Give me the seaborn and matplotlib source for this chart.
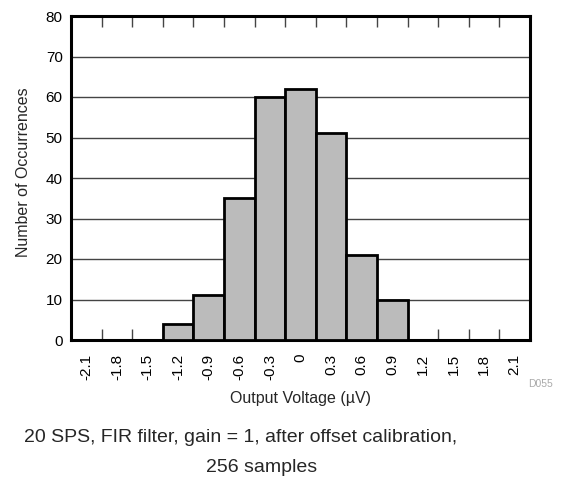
import pandas as pd
import seaborn as sns
import matplotlib.pyplot as plt
from matplotlib.ticker import FixedLocator

# bin centres (uV) and counts
bin_labels = ["-2.1", "-1.8", "-1.5", "-1.2", "-0.9", "-0.6", "-0.3", "0",
              "0.3", "0.6", "0.9", "1.2", "1.5", "1.8", "2.1"]
counts = [0, 0, 0, 4, 11, 35, 60, 62, 51, 21, 10, 0, 0, 0, 0]
y_ticks = [0, 10, 20, 30, 40, 50, 60, 70, 80]

sns.set_theme(style="white")
plt.rcParams["font.family"] = ["Liberation Sans", "DejaVu Sans"]

df = pd.DataFrame({"bin": bin_labels, "count": counts})

W, H = 565, 478
fig = plt.figure(figsize=(W / 100, H / 100), dpi=100)
ax = fig.add_axes([71 / W, 1 - 340 / H, 459 / W, 324 / H])

sns.barplot(data=df, x="bin", y="count", order=bin_labels, width=1.0,
            color="#bbbbbb", saturation=1, edgecolor="black", linewidth=2,
            ax=ax, zorder=3)

ax.set_xlim(-0.5, len(bin_labels) - 0.5)
ax.set_ylim(0, 80)
ax.set_yticks(y_ticks)
ax.yaxis.grid(True, color="#444444", linewidth=1, zorder=0)
ax.set_axisbelow(True)

# labels at bin centres, tick marks at bin edges
ax.set_xticks(range(len(bin_labels)))
ax.set_xticklabels(bin_labels, rotation=90, fontsize=11, color="black")
ax.tick_params(axis="x", which="major", length=0, pad=10)
ax.xaxis.set_minor_locator(FixedLocator([i + 0.5 for i in range(len(bin_labels) - 1)]))
ax.tick_params(axis="x", which="minor", direction="in", length=8, width=1,
               color="#444444", top=True, bottom=True)
ax.tick_params(axis="y", length=0, labelsize=11, labelcolor="black", pad=6)

for s in ax.spines.values():
    s.set_linewidth(2.2)
    s.set_color("black")

ax.set_xlabel("")
ax.set_ylabel("")

fig.text(24 / W, 1 - 172 / H, "Number of Occurrences", fontsize=11.5,
         rotation=90, ha="center", va="center")
fig.text(300 / W, 1 - 399 / H, "Output Voltage (\u00b5V)", fontsize=11.5,
         ha="center", va="center")
fig.text(553 / W, 1 - 384 / H, "D055", fontsize=7.5, color="#aaaaaa",
         ha="right", va="center")
fig.text(241 / W, 1 - 438 / H, "20 SPS, FIR filter, gain = 1, after offset calibration,",
         fontsize=14, ha="center", va="center")
fig.text(262 / W, 1 - 467 / H, "256 samples", fontsize=14, ha="center", va="center")

fig.savefig("out.png", dpi=100)
